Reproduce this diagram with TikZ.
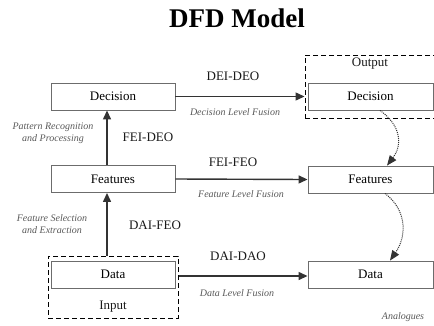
\documentclass[tikz,border=0pt]{standalone}
\usepackage{fontspec}
\setmainfont{Liberation Serif}
\usetikzlibrary{arrows.meta,calc}
\begin{document}
\begin{tikzpicture}[x=1pt,y=-1pt,
  box/.style={draw=gray!85!black,line width=0.9pt,minimum width=124pt,minimum height=27pt,inner sep=0pt,font=\fontsize{13}{14}\selectfont},
  grp/.style={draw=black,dashed,dash pattern=on 5pt off 3pt,line width=1pt,inner sep=0pt},
  lbl/.style={font=\fontsize{13}{14}\selectfont,text=black!90},
  ital/.style={font=\fontsize{10}{12}\selectfont\itshape,text=black!65,align=center},
  flow/.style={draw=black!80,line width=1.4pt,-{Triangle[length=9pt,width=8pt]}},
  analog/.style={draw=black!80,line width=1pt,dash pattern=on 1pt off 1pt,-{Triangle[length=10pt,width=8pt]}}]
\useasboundingbox (0,0) rectangle (434,325);
\node[font=\fontsize{27}{30}\selectfont\bfseries] (title) at (237,18) {DFD Model};
% groups
\node[grp,minimum width=135pt,minimum height=63pt] (output) at (372.5,86.5) {};
\node[grp,minimum width=130pt,minimum height=62pt] (input) at (113,287) {};
\node[lbl] (outtxt) at (370,64) {Output};
\node[lbl] (intxt) at (113,307) {Input};
% boxes
\node[box] (decL) at (113,96.5) {Decision};
\node[box] (featL) at (113,179) {Features};
\node[box] (dataL) at (113,274.5) {Data};
\node[box,minimum width=125pt] (decR) at (370.5,96.5) {Decision};
\node[box,minimum width=125pt] (featR) at (370.5,179.5) {Features};
\node[box,minimum width=125pt] (dataR) at (370.5,274.5) {Data};
% horizontal flows
\draw[flow] (decL.east) -- (decL.east -| output.west);
\draw[flow] (featL.east) -- (featR.west);
\draw[flow] ($(dataL.east -| input.east)+(0,1.5)$) -- ($(dataR.west)+(0,1.5)$);
% vertical flows
\draw[flow] ([xshift=-6pt]featL.north) -- ([xshift=-6pt]featL.north |- decL.south);
\draw[flow] ([xshift=-6pt]input.north) -- ([xshift=-6pt]input.north |- featL.south);
% analogue curves
\draw[analog] ([xshift=9.5pt]decR.south) .. controls (402,126) and (402,146) .. ([xshift=16.5pt]featR.north);
\draw[analog] ([xshift=14.5pt]featR.south) .. controls (407,210) and (407,236) .. ([xshift=19.5pt]dataR.north);
% labels
\node[lbl] (l1) at (233,76) {DEI-DEO};
\node[ital] (l2) at (235,112) {Decision Level Fusion};
\node[lbl] (l3) at (148,137) {FEI-DEO};
\node[lbl] (l4) at (233,162) {FEI-FEO};
\node[ital] (l5) at (241,194) {Feature Level Fusion};
\node[lbl] (l6) at (155,225) {DAI-FEO};
\node[lbl] (l7) at (238,256) {DAI-DAO};
\node[ital] (l8) at (237,293) {Data Level Fusion};
\node[ital] (l9) at (53,133.5) {Pattern Recognition\\and Processing};
\node[ital] (l10) at (52,224.5) {Feature Selection\\and Extraction};
\node[ital] (l11) at (403,317) {Analogues};
\end{tikzpicture}
\end{document}
